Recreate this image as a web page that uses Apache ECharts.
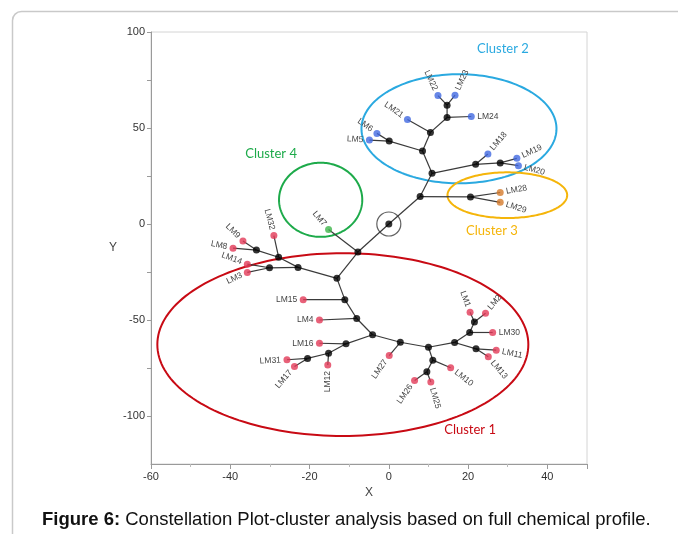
<!DOCTYPE html>
<html><head><meta charset="utf-8">
<script src="https://cdn.jsdelivr.net/npm/echarts@6/dist/echarts.min.js"></script>
<style>html,body{margin:0;padding:0;background:#fff}#c{width:678px;height:534px}</style>
</head><body><div id="c"></div>
<script>
// ---- internal (joining) nodes of the constellation tree ----
const innerIds    = ['n0','nA','nB','nC','nD','nE','nF','nG','nH','nI','nJ','nK','nL','nM','nN','nO','nP','nQ','nR','nS','nT','nU','nV','nW','nX','nY','nZ','nAA','nAB','nAC','nAD'];
const innerX      = [0,-7.8,7.9,10.9,20.6,8.5,21.9,28.1,0.1,10.5,14.7,14.7,-13.1,-22.9,-11.1,-27.8,-30.1,-33.4,-8.1,-4.1,-10.8,2.9,-15.2,-20.5,10.0,16.6,11.1,20.4,22.0,21.6,9.6];
const innerY      = [0,-14.6,14.3,26.4,14.1,38.0,31.1,31.8,43.2,47.7,55.5,61.9,-28.3,-22.6,-39.4,-17.3,-22.8,-13.6,-49.2,-57.7,-62.4,-61.6,-67.3,-70.0,-64.2,-61.7,-70.9,-56.5,-65.0,-51.0,-77.0];
const innerParent = [null,'n0','n0','nB','nB','nC','nC','nF','nE','nE','nI','nJ','nA','nL','nL','nM','nM','nO','nN','nR','nS','nS','nT','nV','nU','nX','nX','nY','nY','nAA','nZ'];

// ---- leaves (samples) ----
const leafNames   = ['LM1','LM2','LM3','LM4','LM5','LM6','LM7','LM8','LM9','LM10','LM11','LM12','LM13','LM14','LM15','LM16','LM17','LM18','LM19','LM20','LM21','LM22','LM23','LM24','LM25','LM26','LM27','LM28','LM29','LM30','LM31','LM32'];
const leafX       = [20.5,24.4,-35.7,-17.5,-4.9,-3.0,-15.2,-39.3,-36.8,15.6,27.1,-15.4,25.1,-35.7,-21.6,-17.5,-23.8,25.0,32.3,32.7,4.7,12.4,16.7,20.8,10.6,6.5,0.1,28.1,28.1,26.2,-25.7,-29.0];
const leafY       = [-46.0,-46.5,-25.2,-50.0,43.7,47.2,-2.9,-12.6,-8.9,-74.9,-65.7,-73.4,-69.2,-20.9,-39.4,-62.1,-74.2,36.5,34.2,30.4,54.4,66.9,67.1,56.0,-82.3,-81.5,-68.5,16.4,11.3,-56.5,-70.7,-6.0];
const leafParent  = ['nAC','nAC','nP','nR','nH','nH','nA','nQ','nQ','nZ','nAB','nV','nAB','nP','nN','nT','nW','nF','nG','nG','nI','nK','nK','nJ','nAD','nAD','nU','nD','nD','nAA','nW','nO'];
const leafCluster = [1,1,1,1,2,2,4,1,1,1,1,1,1,1,1,1,1,2,2,2,2,2,2,2,1,1,1,3,3,1,1,1];

// ---- cluster ellipses and their captions ----
const clusterNames  = ['Cluster 1','Cluster 2','Cluster 3','Cluster 4'];
const clusterCx     = [-11.6,17.7,29.9,-17.2];
const clusterCy     = [-62.8,49.6,15.0,12.6];
const clusterRx     = [46.8,24.6,15.1,10.5];
const clusterRy     = [47.6,28.4,11.9,19.3];
const clusterLabelX = [20.5,28.8,26.0,-29.7];
const clusterLabelY = [-107.3,91.3,-3.4,36.3];

// ---- styling ----
const clusterLineColor = {1:'#c80a14',2:'#2aa9e0',3:'#f5b50a',4:'#1daa4a'};
const clusterDotColor  = {1:'#e23a58',2:'#4169e1',3:'#d57a2c',4:'#3db54a'};
const labelRotate = {LM1:-70,LM2:50,LM3:25,LM4:0,LM5:-3,LM6:-35,LM7:-50,LM8:-12,LM9:-45,LM10:-38,LM11:-12,LM12:90,LM13:-50,LM14:-20,LM15:0,LM16:0,LM17:50,LM18:50,LM19:25,LM20:-15,LM21:-35,LM22:-65,LM23:65,LM24:0,LM25:-75,LM26:55,LM27:55,LM28:10,LM29:-18,LM30:0,LM31:3,LM32:-75};

const pos = {};
innerIds.forEach((id,i)=>{pos[id]=[innerX[i],innerY[i]];});
leafNames.forEach((n,i)=>{pos[n]=[leafX[i],leafY[i]];});
const edgeData = [];
innerIds.forEach((id,i)=>{ if(innerParent[i]){const p=pos[innerParent[i]];edgeData.push([p[0],p[1],innerX[i],innerY[i]]);} });
leafNames.forEach((n,i)=>{const p=pos[leafParent[i]];edgeData.push([p[0],p[1],leafX[i],leafY[i]]);});

const leafLabelData = leafNames.map((n,i)=>{const p=pos[leafParent[i]];return [leafX[i],leafY[i],p[0],p[1],i];});

const font = 'Liberation Sans, Arial, sans-serif';
const chart = echarts.init(document.getElementById('c'), null, {renderer:'canvas'});

const leafSeries = [1,2,3,4].map(c=>({
  type:'scatter', symbol:'circle', symbolSize:7, z:4,
  itemStyle:{color:clusterDotColor[c]},
  data: leafNames.map((n,i)=>[leafX[i],leafY[i],i]).filter(d=>leafCluster[d[2]]===c)
}));

chart.setOption({
  animation:false,
  backgroundColor:'#fff',
  grid:{left:151,right:91,top:32,bottom:70,show:true,borderColor:'#d4d4d4',borderWidth:1},
  xAxis:{type:'value',min:-60,max:50,interval:20,
    name:'X',nameLocation:'middle',nameGap:22,nameTextStyle:{color:'#444',fontSize:12,fontFamily:font},
    axisLine:{show:true,onZero:false,lineStyle:{color:'#9a9a9a'}},
    axisTick:{show:true,length:5,lineStyle:{color:'#9a9a9a'}},
    minorTick:{show:true,splitNumber:2,length:3,lineStyle:{color:'#bbb'}},
    splitLine:{show:false},
    axisLabel:{color:'#333',fontSize:11,fontFamily:font,margin:7,showMaxLabel:false}},
  yAxis:{type:'value',min:-125,max:100,interval:25,
    name:'Y',nameLocation:'middle',nameGap:34,nameRotate:0,nameTextStyle:{color:'#444',fontSize:12,fontFamily:font},
    axisLine:{show:true,onZero:false,lineStyle:{color:'#9a9a9a'}},
    axisTick:{show:true,length:4,lineStyle:{color:'#9a9a9a'}},
    splitLine:{show:false},
    axisLabel:{color:'#333',fontSize:11,fontFamily:font,margin:6,showMinLabel:false,
      formatter:v=>(v%50===0?String(v):'')}},
  graphic:[
    {type:'rect',left:10,top:9,shape:{width:720,height:620,r:9},style:{fill:'none',stroke:'#c9c9c9',lineWidth:1.5},z:0,silent:true},
    {type:'text',left:42,top:510,style:{text:'{b|Figure 6:} Constellation Plot-cluster analysis based on full chemical profile.',
      fontSize:18.5,fontFamily:font,fill:'#111',rich:{b:{fontWeight:'bold',fontSize:18.5,fontFamily:font,fill:'#111'}}}}
  ],
  series:[
    {type:'custom', z:1, silent:true,
      data: clusterNames.map((n,i)=>[clusterCx[i],clusterCy[i],clusterRx[i],clusterRy[i],i]),
      renderItem:(params,api)=>{
        const c=api.coord([api.value(0),api.value(1)]);
        const s=api.size([api.value(2),api.value(3)]);
        const idx=api.value(4); const pts=[];
        for(let k=0;k<180;k++){const t=k/180*Math.PI*2;pts.push([c[0]+s[0]*Math.cos(t),c[1]+s[1]*Math.sin(t)]);}
        return {type:'polygon',shape:{points:pts},style:{fill:'none',stroke:clusterLineColor[idx+1],lineWidth:2}};
      }},
    {type:'custom', z:2, silent:true, data: edgeData,
      renderItem:(params,api)=>{
        const a=api.coord([api.value(0),api.value(1)]);
        const b=api.coord([api.value(2),api.value(3)]);
        return {type:'line',shape:{x1:a[0],y1:a[1],x2:b[0],y2:b[1]},style:{stroke:'#3a3a3a',lineWidth:1.2}};
      }},
    {type:'scatter', z:3, symbol:'circle', symbolSize:24, silent:true,
      itemStyle:{color:'rgba(0,0,0,0)',borderColor:'#3a3a3a',borderWidth:1.2},
      data:[[innerX[0],innerY[0]]]},
    {type:'scatter', z:4, symbol:'circle', symbolSize:7, itemStyle:{color:'#000'},
      data: innerIds.map((id,i)=>[innerX[i],innerY[i]])},
    ...leafSeries,
    {type:'custom', z:5, silent:true, data: leafLabelData,
      renderItem:(params,api)=>{
        const p=api.coord([api.value(0),api.value(1)]);
        const q=api.coord([api.value(2),api.value(3)]);
        const name=leafNames[api.value(4)];
        const right = p[0]>=q[0];
        const r = labelRotate[name]*Math.PI/180;
        const d = 6, dx=Math.cos(r)*d, dy=-Math.sin(r)*d;
        const ax = right ? p[0]+dx : p[0]-dx, ay = right ? p[1]+dy : p[1]-dy;
        return {type:'text',x:ax,y:ay,rotation:r,
          style:{text:name,fontSize:8.5,fontFamily:font,fill:'#444',align:right?'left':'right',verticalAlign:'middle'}};
      }},
    {type:'custom', z:5, silent:true,
      data: clusterNames.map((n,i)=>[clusterLabelX[i],clusterLabelY[i],i]),
      renderItem:(params,api)=>{
        const p=api.coord([api.value(0),api.value(1)]);
        const i=api.value(2);
        return {type:'text',x:p[0],y:p[1],
          style:{text:clusterNames[i],fontSize:13,fontFamily:'Lato, sans-serif',fill:clusterLineColor[i+1],align:'center',verticalAlign:'middle'}};
      }}
  ]
});
</script></body></html>
